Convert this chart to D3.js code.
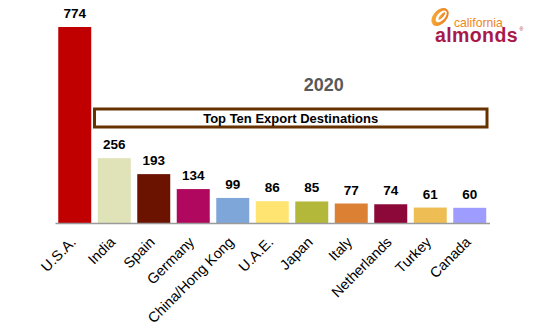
<!DOCTYPE html>
<html>
<head>
<meta charset="utf-8">
<script src="https://cdn.jsdelivr.net/npm/d3@7"></script>
<style>
  html, body { margin: 0; padding: 0; background: #fff; }
  svg { display: block; font-family: "Liberation Sans", Arial, sans-serif; }
</style>
</head>
<body>
<svg id="chart" width="547" height="335"></svg>
<script>
// Top ten export destinations for California almonds, 2020 (million lbs)
const categories = ["U.S.A.", "India", "Spain", "Germany", "China/Hong Kong", "U.A.E.", "Japan", "Italy", "Netherlands", "Turkey", "Canada"];
const values = [774, 256, 193, 134, 99, 86, 85, 77, 74, 61, 60];
const barColors = ["#C00000", "#E0E2B8", "#6C1300", "#B0085E", "#7FA6D8", "#FFE472", "#B4B83A", "#DC8034", "#8B0838", "#EEBE55", "#9E9CFF"];
const yearLabel = "2020";
const chartTitle = "Top Ten Export Destinations";

const svg = d3.select("#chart");
svg.append("rect").attr("width", 547).attr("height", 335).attr("fill", "#fff");

const x = d3.scaleBand()
  .domain(categories)
  .range([55, 489.5])
  .paddingInner(0.165)
  .paddingOuter(0.0825);

const y = d3.scaleLinear()
  .domain([0, 774])
  .range([223, 27]);

// Bars
svg.append("g")
  .selectAll("rect")
  .data(categories)
  .join("rect")
  .attr("x", d => x(d))
  .attr("y", (d, i) => y(values[i]))
  .attr("width", x.bandwidth())
  .attr("height", (d, i) => y(0) - y(values[i]))
  .attr("fill", (d, i) => barColors[i]);

// Value labels
svg.append("g")
  .selectAll("text")
  .data(categories)
  .join("text")
  .attr("x", d => x(d) + x.bandwidth() / 2)
  .attr("y", (d, i) => y(values[i]) - 9)
  .attr("text-anchor", "middle")
  .attr("font-size", 13.5)
  .attr("font-weight", "bold")
  .attr("fill", "#000")
  .text((d, i) => values[i]);

// Category axis
const axis = svg.append("g")
  .attr("transform", `translate(0,${y(0)})`)
  .call(d3.axisBottom(x).tickSize(0).tickSizeOuter(0));
axis.select(".domain").attr("stroke", "#9a9a9a").attr("stroke-width", 1.5);
axis.selectAll(".tick text")
  .attr("x", 0).attr("y", 0).attr("dy", 0)
  .attr("text-anchor", "end")
  .attr("transform", "translate(2,20) rotate(-45)")
  .attr("font-family", "'Liberation Sans', Arial, sans-serif")
  .attr("font-size", 14.5)
  .attr("fill", "#000");

// Year heading
svg.append("text")
  .attr("x", 323.7).attr("y", 91)
  .attr("text-anchor", "middle")
  .attr("font-size", 18).attr("font-weight", "bold")
  .attr("fill", "#595959")
  .text(yearLabel);

// Framed title
svg.append("rect")
  .attr("x", 94.5).attr("y", 109)
  .attr("width", 392.5).attr("height", 18)
  .attr("fill", "#fff")
  .attr("stroke", "#663300").attr("stroke-width", 3);
svg.append("text")
  .attr("x", 290.7).attr("y", 122.5)
  .attr("text-anchor", "middle")
  .attr("font-size", 13).attr("font-weight", "bold")
  .attr("fill", "#000")
  .text(chartTitle);

// Brand mark
const defs = svg.append("defs");
const grad = defs.append("linearGradient").attr("id", "almondGrad")
  .attr("x1", "0").attr("y1", "0").attr("x2", "1").attr("y2", "1");
grad.append("stop").attr("offset", "0").attr("stop-color", "#F7B43C");
grad.append("stop").attr("offset", "1").attr("stop-color", "#E8721A");

const logo = svg.append("g");
logo.append("ellipse")
  .attr("cx", 440).attr("cy", 17).attr("rx", 10.5).attr("ry", 6.8)
  .attr("transform", "rotate(-48 440 17)")
  .attr("fill", "url(#almondGrad)");
logo.append("ellipse")
  .attr("cx", 441.2).attr("cy", 16.4).attr("rx", 7.2).attr("ry", 3.8)
  .attr("transform", "rotate(-48 441.2 16.4)")
  .attr("fill", "#fff");
logo.append("ellipse")
  .attr("cx", 441.8).attr("cy", 16).attr("rx", 4.6).attr("ry", 1.5)
  .attr("transform", "rotate(-48 441.8 16)")
  .attr("fill", "url(#almondGrad)");
logo.append("text")
  .attr("x", 454).attr("y", 26.7)
  .attr("font-size", 12.2)
  .attr("fill", "#EE861E")
  .text("california");
logo.append("text")
  .attr("x", 435).attr("y", 42.3)
  .attr("font-size", 19.5).attr("font-weight", "bold")
  .attr("letter-spacing", 0.4)
  .attr("fill", "#A8194A")
  .text("almonds");
logo.append("text")
  .attr("x", 519.5).attr("y", 31)
  .attr("font-size", 5)
  .attr("fill", "#A8194A")
  .text("®");
</script>
</body>
</html>
